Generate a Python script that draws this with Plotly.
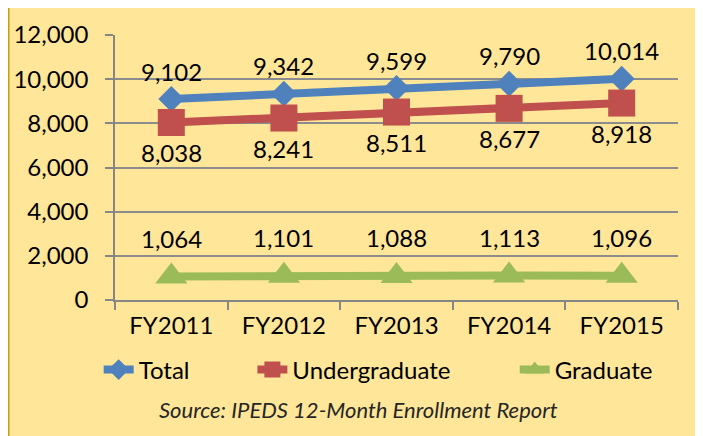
import plotly.graph_objects as go

years = ["FY2011", "FY2012", "FY2013", "FY2014", "FY2015"]
total = [9102, 9342, 9599, 9790, 10014]
undergrad = [8038, 8241, 8511, 8677, 8918]
graduate = [1064, 1101, 1088, 1113, 1096]
y_ticks = [0, 2000, 4000, 6000, 8000, 10000, 12000]

FONT = "Lato"
BLUE = "#4F81BD"
RED = "#C0504D"
GREEN = "#9BBB59"

fig = go.Figure()

series = [
    ("Total", total, BLUE, "diamond", 20, "legend", -28),
    ("Undergraduate", undergrad, RED, "square", 27, "legend2", 30),
    ("Graduate", graduate, GREEN, "triangle-up", 28, "legend3", -38),
]

for name, vals, color, sym, size, leg, shift in series:
    fig.add_trace(go.Scatter(
        x=years, y=vals, name=name, mode="lines+markers",
        line=dict(color=color, width=8),
        marker=dict(symbol=sym, size=size, color=color),
        legend=leg,
    ))
    for xv, yv in zip(years, vals):
        fig.add_annotation(x=xv, y=yv, text=f"{yv:,}", showarrow=False,
                           yshift=-shift, font=dict(family=FONT, size=24, color="#000"))

# background panel
fig.add_shape(type="rect", xref="paper", yref="paper",
              x0=-0.19, x1=1.041, y0=-0.56, y1=1.119,
              fillcolor="#FFE699", line=dict(color="#C9A000", width=3), layer="below")

fig.add_annotation(xref="paper", yref="paper", x=0.433, y=-0.415, yanchor="middle",
                   xanchor="center",
                   text="<i>Source: IPEDS 12-Month Enrollment Report</i>", showarrow=False,
                   font=dict(family=FONT, size=22, color="#262626"))

leg_common = dict(orientation="h", yanchor="middle", y=-0.264, xanchor="left",
                  bgcolor="rgba(0,0,0,0)", font=dict(family=FONT, size=24, color="#000"))

# the page body adds an 8px offset, so margins are shifted to compensate
fig.update_layout(
    width=703, height=436,
    margin=dict(l=107, r=33, t=27, b=144, autoexpand=False),
    paper_bgcolor="white", plot_bgcolor="rgba(0,0,0,0)",
    showlegend=True,
    legend=dict(x=-0.029, **leg_common),
    legend2=dict(x=0.244, **leg_common),
    legend3=dict(x=0.71, **leg_common),
    xaxis=dict(type="category", range=[-0.5, 4.5], showline=True, linecolor="#868686",
               linewidth=1.5, ticks="outside", tickson="boundaries", ticklen=8,
               tickcolor="#868686", tickwidth=1.5, showgrid=False, ticklabelstandoff=3,
               automargin=False,
               tickfont=dict(family=FONT, size=24, color="#000")),
    yaxis=dict(range=[0, 12000], tickvals=y_ticks, tickformat=",", showline=True,
               linecolor="#868686", linewidth=1.5, ticks="outside", ticklen=8,
               tickcolor="#868686", tickwidth=1.5, gridcolor="#8C8C8C", gridwidth=1.5,
               zeroline=False, ticklabelstandoff=12, automargin=False,
               tickfont=dict(family=FONT, size=24, color="#000")),
)

fig.write_html("out.html")
